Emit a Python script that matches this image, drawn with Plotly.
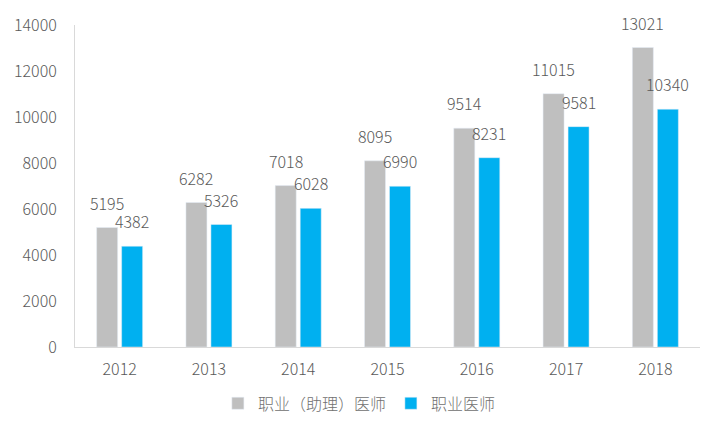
import plotly.graph_objects as go

years = ["2012", "2013", "2014", "2015", "2016", "2017", "2018"]
assistant_doctors = [5195, 6282, 7018, 8095, 9514, 11015, 13021]
doctors = [4382, 5326, 6028, 6990, 8231, 9581, 10340]
series_names = ["职业（助理）医师", "职业医师"]
colors = ["#BFBFBF", "#00B0F0"]

font_family = "Noto Sans CJK SC, Noto Sans, sans-serif"
text_color = "#595959"

fig = go.Figure()
for name, vals, c in zip(series_names, [assistant_doctors, doctors], colors):
    fig.add_trace(go.Bar(x=years, y=vals, name=name, marker_color=c))

annotations = []
for vals, xs in [(assistant_doctors, -12.5), (doctors, 12.5)]:
    for i, v in enumerate(vals):
        annotations.append(dict(x=i, y=v, xref="x", yref="y", text=str(v),
                                showarrow=False, xshift=xs, yshift=11, yanchor="bottom",
                                font=dict(size=16, color=text_color, family=font_family,
                                          weight=300)))

fig.update_layout(
    width=720, height=432,
    margin=dict(l=75, r=20, t=21, b=85),
    plot_bgcolor="white", paper_bgcolor="white",
    barmode="group", bargap=0.44, bargroupgap=0.16,
    font=dict(family=font_family, size=16, color=text_color, weight=300),
    annotations=annotations,
    legend=dict(orientation="h", x=0.455, xanchor="center", y=-0.175, yanchor="middle",
                font=dict(size=16, color="#707070", weight=300), itemwidth=30,
                traceorder="normal"),
    xaxis=dict(type="category", range=[-0.5, len(years) - 0.5], showline=True,
               linecolor="#D9D9D9", linewidth=1, ticks="", ticklabelstandoff=8,
               showgrid=False, tickfont=dict(size=16, color=text_color, weight=300)),
    yaxis=dict(range=[0, 14000], dtick=2000, tickformat="d", showline=True, linecolor="#D9D9D9",
               linewidth=1, showgrid=False, zeroline=False, ticks="", ticklabelstandoff=14,
               tickfont=dict(size=16, color=text_color, weight=300)),
)

fig.write_html("out.html")
